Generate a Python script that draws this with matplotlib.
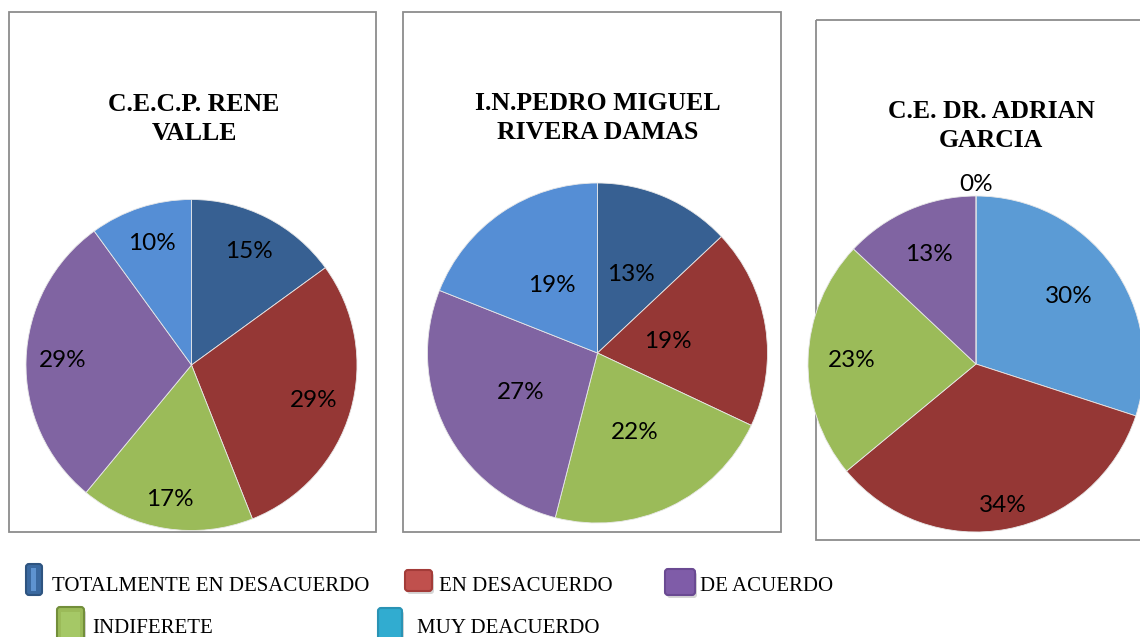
import matplotlib
matplotlib.use("Agg")
import matplotlib.pyplot as plt
import numpy as np
from matplotlib.patches import Rectangle, FancyBboxPatch

# ---------------- data ----------------
categories = ["TOTALMENTE EN DESACUERDO", "EN DESACUERDO", "INDIFERETE",
              "DE ACUERDO", "MUY DEACUERDO"]
titles = ["C.E.C.P. RENE\nVALLE", "I.N.PEDRO MIGUEL\nRIVERA DAMAS",
          "C.E. DR. ADRIAN\nGARCIA"]
rene_valle = [15, 29, 17, 29, 10]
pedro_miguel = [13, 19, 22, 27, 19]
adrian_garcia = [0, 34, 23, 13, 30]
# drawing order (clockwise from 12 o'clock) of each school's slices
draw_order = [[0, 1, 2, 3, 4], [0, 1, 2, 3, 4], [4, 1, 2, 3, 0]]

# ---------------- style ----------------
W, H = 1140, 637
slice_colors = ["#376092", "#953735", "#9BBB59", "#8064A2", "#558ED5"]
slice_colors_3 = ["#376092", "#953735", "#9BBB59", "#8064A2", "#5B9BD5"]
legend_colors = ["#3A69A0", "#C0504D", "#9BBB59", "#7F5CA8", "#31ACD0"]
legend_edges = ["#2E5480", "#A33B38", "#728E3A", "#6A4A92", "#2A93B4"]

pie_geom = [(191.5, 365, 165.5), (597.5, 353, 170), (976, 364, 168)]
label_r = [[0.77, 0.77, 0.82, 0.78, 0.77],
           [0.50, 0.42, 0.52, 0.51, 0.48],
           [0.68, 0.86, 0.74, 0.71, 1.07]]
borders = [(9, 12, 376, 532), (403, 12, 781, 532), (816, 20, 1160, 540)]
title_pos = [(194, 119), (598, 118), (991, 126)]

fig = plt.figure(figsize=(W / 100, H / 100), dpi=100)
fig.patch.set_facecolor("white")

ov = fig.add_axes([0, 0, 1, 1])
ov.set_xlim(0, W)
ov.set_ylim(H, 0)
ov.axis("off")

# panel borders
for (x0, y0, x1, y1) in borders:
    ov.add_patch(Rectangle((x0, y0), x1 - x0, y1 - y0, fill=False,
                           edgecolor="#8C8C8C", linewidth=1.3))

# titles
for t, (tx, ty) in zip(titles, title_pos):
    ov.text(tx, ty, t, ha="center", va="center", fontsize=18.5,
            fontweight="bold", family="Liberation Serif", linespacing=1.3,
            color="black")

# pies
all_vals = [rene_valle, pedro_miguel, adrian_garcia]
for i, vals in enumerate(all_vals):
    cx, cy, r = pie_geom[i]
    ax = fig.add_axes([(cx - r) / W, 1 - (cy + r) / H, 2 * r / W, 2 * r / H])
    order = draw_order[i]
    cols = slice_colors_3 if i == 2 else slice_colors
    v = [vals[k] for k in order]
    c = [cols[k] for k in order]
    wedges, _ = ax.pie(v, colors=c, startangle=90, counterclock=False,
                       radius=1, wedgeprops=dict(edgecolor="#E8E8E8",
                                                 linewidth=0.6))
    for j, w in enumerate(wedges):
        th = np.deg2rad((w.theta1 + w.theta2) / 2)
        d = label_r[i][j]
        ax.text(d * np.cos(th), d * np.sin(th), f"{v[j]}%", ha="center",
                va="center", fontsize=17.5, family="Lato", color="black",
                clip_on=False)
    ax.set_xlim(-1, 1)
    ax.set_ylim(-1, 1)
    ax.axis("off")

# legend
leg_boxes = [(26, 564, 16, 31), (405, 570, 27, 21), (57, 607, 27, 33),
             (665, 569, 30, 26), (378, 608, 24, 32)]
leg_text = [(52, 591), (439, 591), (92, 633), (700, 591), (417, 633)]
for k in range(5):
    x, y, w, h = leg_boxes[k]
    if k != 0:
        ov.add_patch(FancyBboxPatch((x + 2, y + 3), w, h,
                                    boxstyle="round,pad=0,rounding_size=3",
                                    facecolor="#BBBBBB", edgecolor="none",
                                    alpha=0.6))
    ov.add_patch(FancyBboxPatch((x, y), w, h,
                                boxstyle="round,pad=0,rounding_size=3",
                                facecolor=legend_colors[k],
                                edgecolor=legend_edges[k], linewidth=1.5))
    if k == 0:
        ov.add_patch(Rectangle((x + 5, y + 4), 5, h - 8,
                               facecolor="#5E93D0", edgecolor="none"))
    if k == 2:
        ov.add_patch(Rectangle((x + 4, y + 5), w - 8, h - 8,
                               facecolor="#A5C866", edgecolor="none"))
    tx, ty = leg_text[k]
    ov.text(tx, ty, categories[k], ha="left", va="baseline", fontsize=15,
            family="Liberation Serif", color="black")

fig.savefig("out.png", dpi=100, facecolor="white")
